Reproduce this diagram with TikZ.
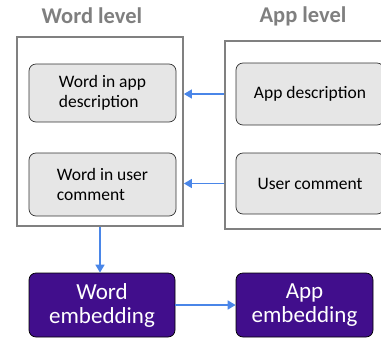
\documentclass[tikz,border=0pt]{standalone}
\usepackage{fontspec}
\setmainfont{Carlito}
\usetikzlibrary{arrows.meta}
\definecolor{titlegray}{HTML}{7F7F7F}
\definecolor{framegray}{HTML}{808080}
\definecolor{cellgray}{HTML}{E6E6E6}
\definecolor{flowblue}{HTML}{4A86E8}
\definecolor{embpurple}{HTML}{410E8C}
\tikzset{
  level/.style={font=\bfseries\fontsize{22.5}{25}\selectfont, text=titlegray},
  frame/.style={draw=framegray, line width=1.8pt},
  cell/.style={draw=black!80, fill=cellgray, rounded corners=7pt, line width=0.7pt,
    align=left, font=\fontsize{17.5}{20.5}\selectfont},
  emb/.style={draw=black, fill=embpurple, rounded corners=7pt, line width=0.7pt,
    align=center, text=white, font=\fontsize{23}{24}\selectfont},
  flow/.style={-{Triangle[length=8pt,width=9pt]}, draw=flowblue, line width=1.6pt}
}
\begin{document}
\begin{tikzpicture}[x=1pt,y=-1pt]
  \useasboundingbox (0,0) rectangle (381,341);
  \node[level] (wordlevel) at (92,16) {Word level};
  \node[level] (applevel) at (303,16) {App level};
  \node[frame, minimum width=166pt, minimum height=189pt] (wordbox) at (100,131.5) {};
  \node[frame, minimum width=180pt, minimum height=188pt] (appbox) at (315,135) {};
  \node[cell, minimum width=147pt, minimum height=58pt] (wad) at (102.5,93) {Word in app\\description};
  \node[cell, minimum width=147pt, minimum height=63pt] (wuc) at (102.5,184.5) {Word in user\\comment};
  \node[cell, minimum width=148pt, minimum height=62pt] (ad) at (310,94) {App description};
  \node[cell, minimum width=148pt, minimum height=61pt] (uc) at (310,183.5) {User comment};
  \node[emb, minimum width=146pt, minimum height=64pt] (we) at (102,305) {Word\\embedding};
  \node[emb, minimum width=137pt, minimum height=64pt] (ae) at (304.5,305) {App\\embedding};
  \begin{scope}[flow]
    \draw (appbox.west |- ad) to (wordbox.east |- ad);
    \draw (appbox.west |- uc) to (wordbox.east |- uc);
    \draw (wordbox.south) to (wordbox.south |- we.north);
    \draw (we.east) to (ae.west);
  \end{scope}
\end{tikzpicture}
\end{document}
